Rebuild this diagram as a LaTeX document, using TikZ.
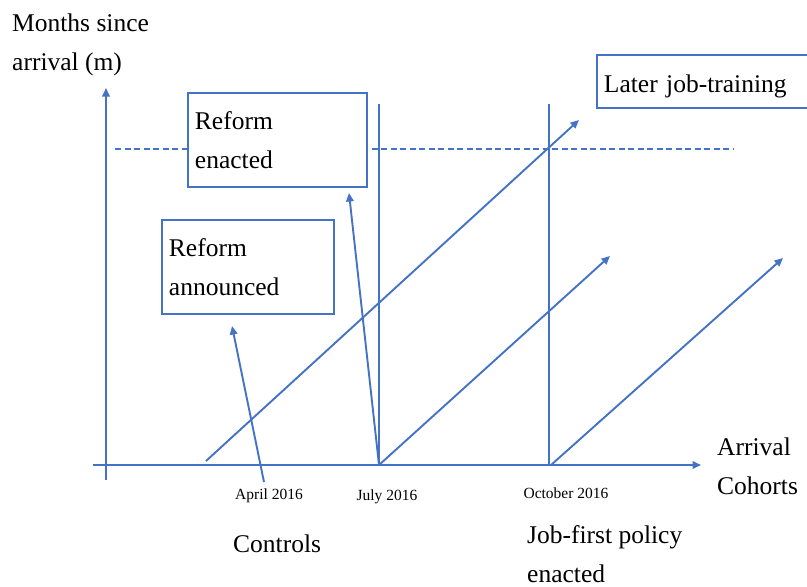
\documentclass[tikz,border=0pt]{standalone}
\usepackage{fontspec}
\setmainfont{Liberation Serif}
\usetikzlibrary{arrows.meta,shadows}
\definecolor{axisblue}{RGB}{68,114,196}
\newcommand{\bigtxt}{\fontsize{25.5}{39}\selectfont}
\newcommand{\smalltxt}{\fontsize{15.5}{18}\selectfont}
\begin{document}
\begin{tikzpicture}[x=1pt,y=-1pt,
  line/.style={draw=axisblue,line width=1.9pt},
  arr/.style={line,-{Triangle[length=8.5pt,width=7.5pt]}},
  dashline/.style={draw=axisblue,line width=1.7pt,dash pattern=on 6pt off 3.5pt},
  box/.style={draw=axisblue,line width=1.9pt,fill=white,align=left,
    inner xsep=7pt,inner ysep=0pt,anchor=north west,font=\bigtxt,
    drop shadow={shadow xshift=1.5pt,shadow yshift=-1.5pt,opacity=0.25}},
  lbl/.style={font=\bigtxt,align=left,inner sep=0pt,anchor=base west},
  tick/.style={font=\smalltxt,inner sep=0pt,anchor=base}]
\useasboundingbox (0,0) rectangle (807,587);
\clip (0,0) rectangle (807,587);

% axes
\coordinate (ybot) at (106,480);
\coordinate (ytop) at (106,88);
\coordinate (xleft) at (93,465);
\coordinate (xright) at (701,465);
\draw[arr] (ybot) -- (ytop);
\draw[arr] (xleft) -- (xright);

% m threshold
\coordinate (dl) at (115,149);
\coordinate (dr) at (733,149);
\draw[dashline] (dl) -- (dr);

% policy dates
\coordinate (jul) at (379,465);
\coordinate (jultop) at (379,104);
\coordinate (oct) at (549,465);
\coordinate (octtop) at (549,104);
\draw[line] (jul) -- (jultop);
\draw[line] (oct) -- (octtop);

% cohort trajectories
\coordinate (c1s) at (206,461);
\coordinate (c1e) at (579,120);
\coordinate (c3s) at (551,465);
\coordinate (c2e) at (610,256);
\coordinate (c3e) at (783,258);
\draw[arr] (c1s) -- (c1e);
\draw[arr] (jul) -- (c2e);
\draw[arr] (c3s) -- (c3e);

% pointers to the events
\coordinate (aprfoot) at (264,482);
\coordinate (anntip) at (232,326);
\coordinate (enacttip) at (349,193);
\draw[arr] (aprfoot) -- (anntip);
\draw[arr] (jul) -- (enacttip);

% event boxes
\node[box,text width=165pt,minimum width=179pt,minimum height=94pt] (enacted) at (187,92) {Reform\\enacted};
\node[box,text width=158pt,minimum width=172pt,minimum height=94pt] (announced) at (161,219) {Reform\\announced};
\node[box,text width=210pt,minimum width=224pt,minimum height=53pt,text height=23pt,text depth=0pt] (later) at (596,54) {Later job-training};

% axis titles (anchored at the baseline of the last line)
\node[lbl] (ylab) at (12,70) {Months since\\arrival (m)};
\node[lbl] (xlab) at (717,494) {Arrival\\Cohorts};

% cohort dates
\node[tick] (apr) at (269,499) {April 2016};
\node[tick] (jullbl) at (387,500) {July 2016};
\node[tick] (octlbl) at (566,498) {October 2016};

% group captions
\node[lbl] (controls) at (233,552) {Controls};
\node[lbl] (jobfirst) at (527,582) {Job-first policy\\enacted};
\end{tikzpicture}
\end{document}
